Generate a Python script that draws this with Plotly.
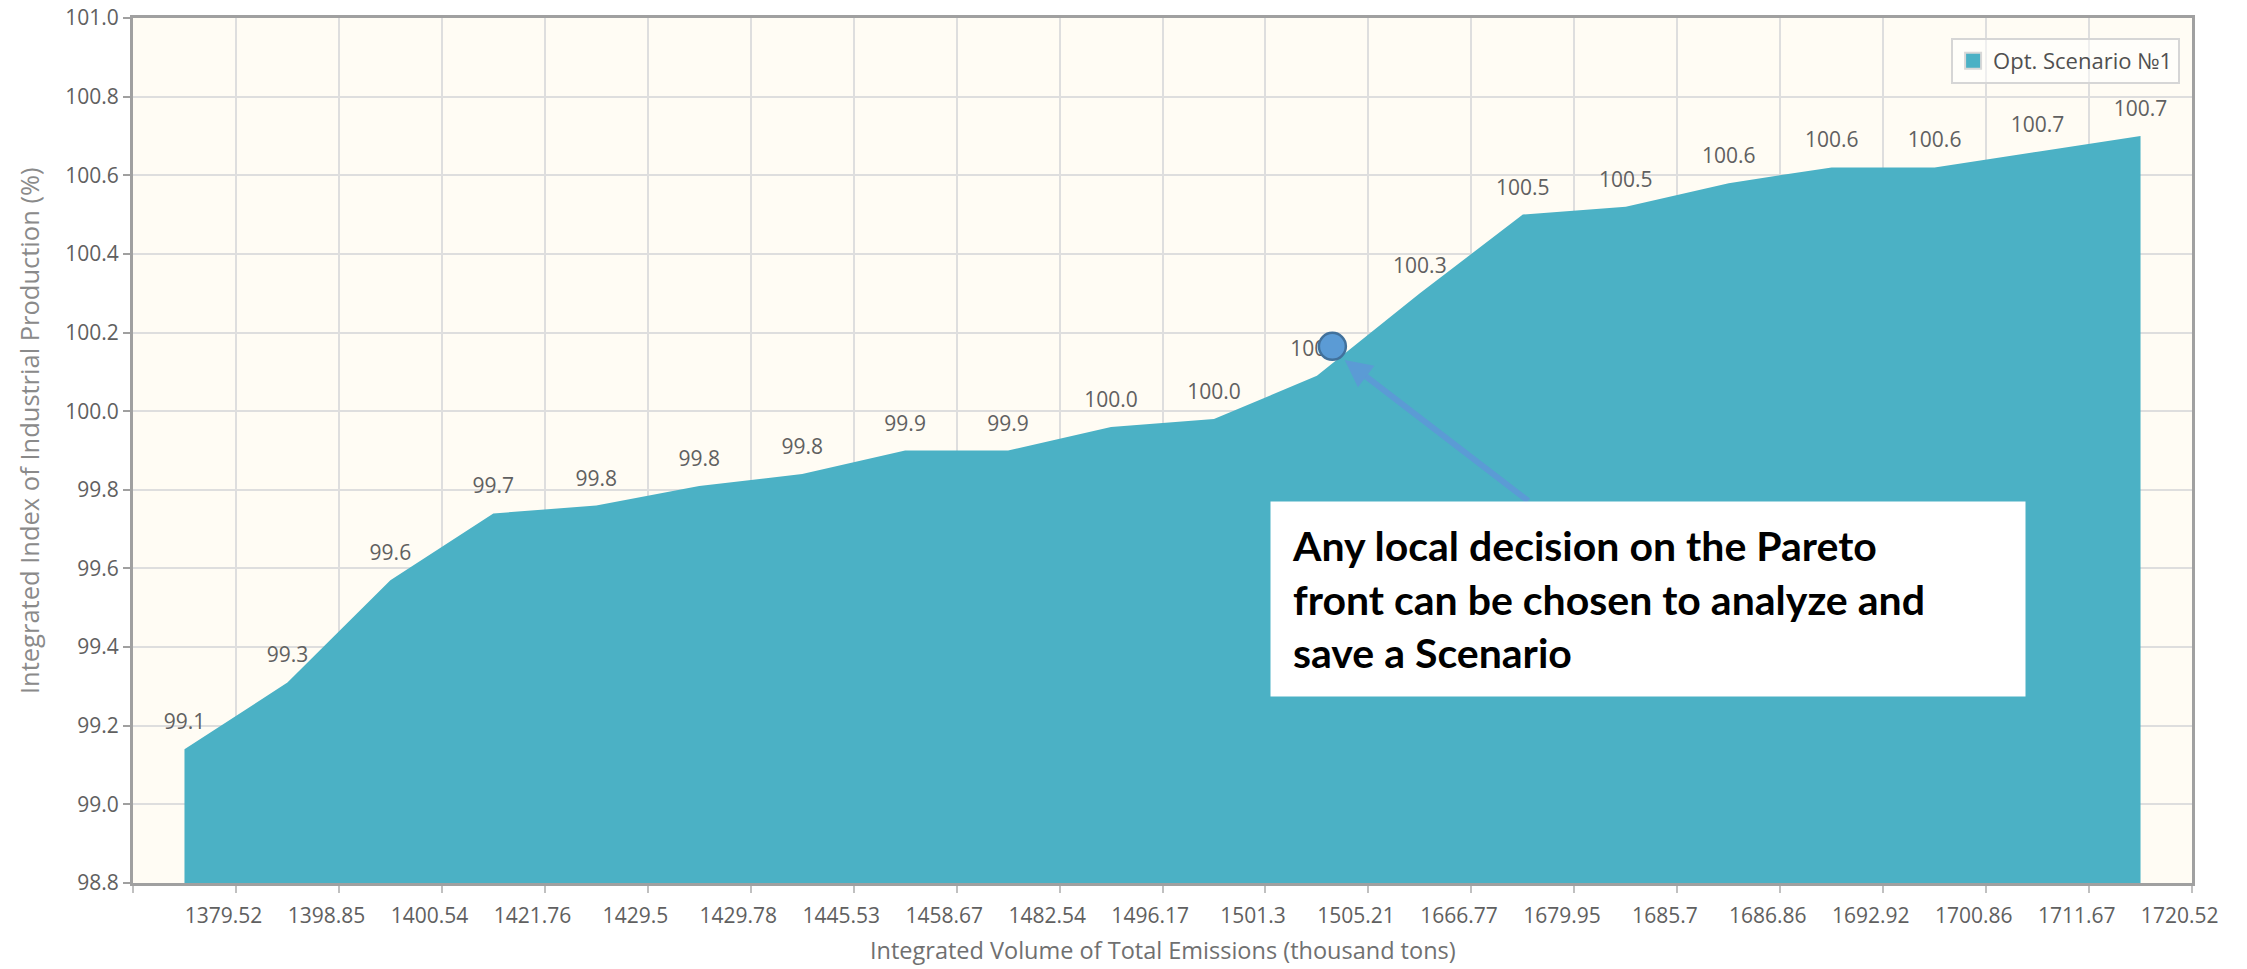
import plotly.graph_objects as go

# ---- data ----
categories = ["1379.52", "1398.85", "1400.54", "1421.76", "1429.5", "1429.78",
              "1445.53", "1458.67", "1482.54", "1496.17", "1501.3", "1505.21",
              "1666.77", "1679.95", "1685.7", "1686.86", "1692.92", "1700.86",
              "1711.67", "1720.52"]
values = [99.14, 99.31, 99.57, 99.74, 99.76, 99.81, 99.84, 99.90, 99.90, 99.96,
          99.98, 100.09, 100.30, 100.50, 100.52, 100.58, 100.62, 100.62, 100.66, 100.70]
series_name = "Opt. Scenario №1"
y_ticks = [98.8, 99.0, 99.2, 99.4, 99.6, 99.8, 100.0, 100.2, 100.4, 100.6, 100.8, 101.0]
x_title = "Integrated Volume of Total Emissions (thousand tons)"
y_title = "Integrated Index of Industrial Production (%)"

# highlighted decision (between 1505.21 and 1666.77)
pick_x, pick_y = 11.15, 100.165
note_text = "Any local decision on the Pareto<br>front can be chosen to analyze and<br>save a Scenario"

idx = list(range(len(categories)))
label_pos = [i + 0.38 for i in idx]
bound_pos = [i - 0.5 for i in idx] + [len(idx) - 0.5]

AREA = "#4BB1C5"
TXT = "#606060"
FONT = "Open Sans, Verdana, sans-serif"

fig = go.Figure()
fig.add_trace(go.Scatter(
    x=idx, y=values, mode="none", fill="tozeroy", fillcolor=AREA,
    showlegend=False, hoverinfo="skip"))
fig.add_trace(go.Scatter(
    x=idx, y=values, mode="markers+text", texttemplate="%{y:.1f}",
    textposition="top center", textfont=dict(family=FONT, size=21, color=TXT),
    marker=dict(size=22, opacity=0), showlegend=False, hoverinfo="skip"))
# legend entry
fig.add_trace(go.Scatter(
    x=[None], y=[None], mode="markers", name=series_name,
    marker=dict(symbol="square", size=23, color=AREA, line=dict(color="#d8d8d8", width=2))))
# chosen point marker
fig.add_trace(go.Scatter(
    x=[pick_x], y=[pick_y], mode="markers", showlegend=False, hoverinfo="skip",
    marker=dict(size=27, color="#5B9BD5", line=dict(color="#41719C", width=2.5))))

fig.update_layout(
    width=2247, height=969, autosize=False,
    margin=dict(l=133, r=55, t=18, b=86),
    paper_bgcolor="white", plot_bgcolor="#FFFCF4",
    font=dict(family=FONT, color=TXT),
    legend=dict(x=0.883, y=0.977, xanchor="left", yanchor="top",
                bgcolor="rgba(255,255,255,0.5)", bordercolor="#d6d6d6", borderwidth=2,
                font=dict(family=FONT, size=22, color="#505050"),
                itemwidth=30, tracegroupgap=0),
    xaxis=dict(
        range=[-0.5, len(idx) - 0.5], tickmode="array", tickvals=label_pos,
        ticktext=categories, ticks="outside", ticklen=12, tickcolor="rgba(0,0,0,0)",
        showgrid=False, zeroline=False, automargin=False,
        showline=True, linecolor="#a0a0a0", linewidth=3, mirror=True,
        tickfont=dict(family=FONT, size=21, color=TXT),
        minor=dict(tickmode="array", tickvals=bound_pos, ticks="outside", ticklen=7,
                   tickcolor="#c0c0c0", tickwidth=2, showgrid=True,
                   gridcolor="#dedede", gridwidth=2),
    ),
    yaxis=dict(
        range=[98.8, 101.0], tickmode="array", tickvals=y_ticks, tickformat=".1f",
        ticks="outside", ticklen=7, tickcolor="#a0a0a0", tickwidth=2,
        showgrid=True, gridcolor="#dedede", gridwidth=2, zeroline=False, automargin=False,
        showline=True, linecolor="#a0a0a0", linewidth=3, mirror=True,
        tickfont=dict(family=FONT, size=21, color=TXT),
    ),
    annotations=[
        dict(x=0.5, y=-0.0775, xref="paper", yref="paper", text=x_title,
             showarrow=False, xanchor="center", yanchor="middle",
             font=dict(family=FONT, size=23.5, color="#707070")),
        dict(x=-0.0505, y=0.5225, xref="paper", yref="paper", text=y_title,
             textangle=-90, showarrow=False, xanchor="center", yanchor="middle",
             font=dict(family=FONT, size=25.5, color="#8a8a8a")),
        dict(x=11.27, y=100.13, xref="x", yref="y", text="", showarrow=True,
             ax=185, ay=142, arrowhead=2, arrowsize=0.9, arrowwidth=6,
             arrowcolor="#5B9BD5", standoff=0),
        dict(x=10.544, y=99.772, xref="x", yref="y", xanchor="left", yanchor="top",
             text=note_text, showarrow=False, align="left", valign="middle",
             width=712, height=152, borderpad=21, bgcolor="white",
             font=dict(family="Lato, Open Sans, sans-serif", size=41, color="black",
                       weight="bold")),
    ],
)

fig.write_html("out.html")
